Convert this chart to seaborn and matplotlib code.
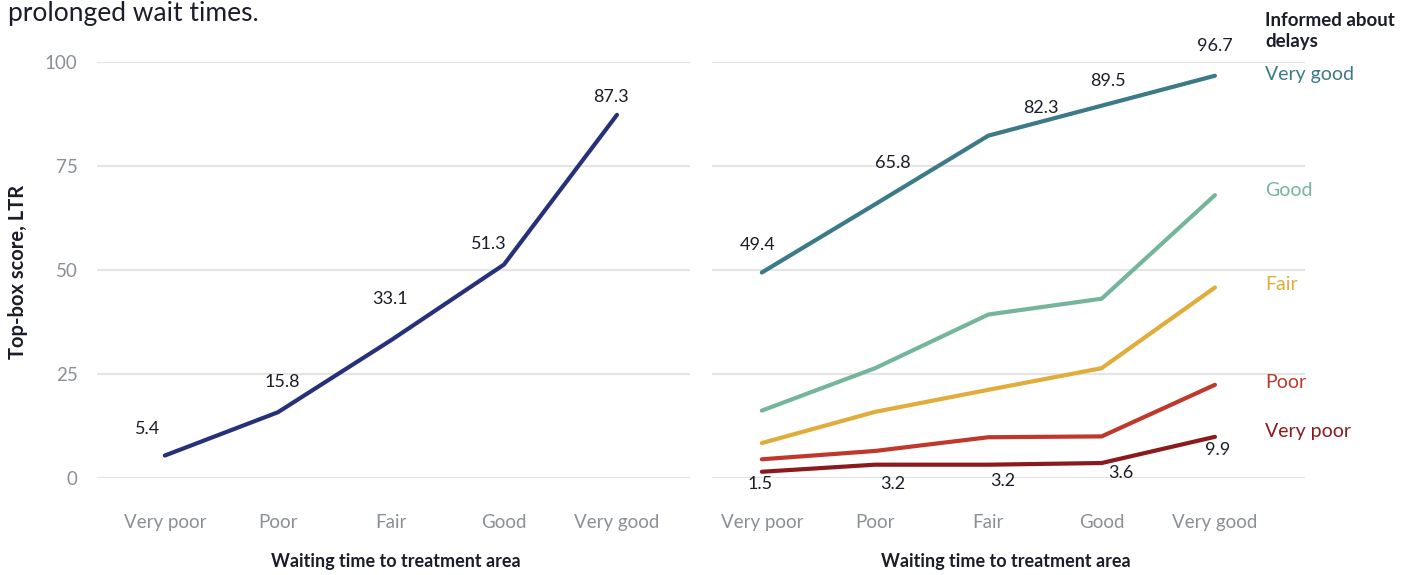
import matplotlib
matplotlib.use("Agg")
import matplotlib.pyplot as plt
import seaborn as sns
import pandas as pd

categories = ["Very poor", "Poor", "Fair", "Good", "Very good"]
overall = [5.4, 15.8, 33.1, 51.3, 87.3]

informed_levels = ["Very good", "Good", "Fair", "Poor", "Very poor"]
informed_very_good = [49.4, 65.8, 82.3, 89.5, 96.7]
informed_good = [16.2, 26.4, 39.3, 43.1, 68.0]
informed_fair = [8.4, 15.9, 21.2, 26.4, 45.8]
informed_poor = [4.5, 6.5, 9.8, 10.0, 22.4]
informed_very_poor = [1.5, 3.2, 3.2, 3.6, 9.9]

yticks = [0, 25, 50, 75, 100]

colors = {"Very good": "#3b7a86", "Good": "#74b59b", "Fair": "#e0ac3a",
          "Poor": "#c0382c", "Very poor": "#8a1a1c"}
navy = "#27317a"

sns.set_theme(style="white")
plt.rcParams["font.family"] = ["Lato", "DejaVu Sans"]

fig = plt.figure(figsize=(14.16, 5.75), dpi=100)
axL = fig.add_axes([97/1416, 1-478/575, 593/1416, 416/575])
axR = fig.add_axes([712/1416, 1-478/575, 593/1416, 416/575])

dfL = pd.DataFrame({"cat": categories, "val": overall})
sns.lineplot(data=dfL, x="cat", y="val", ax=axL, color=navy, lw=3, sort=False)

series = {"Very good": informed_very_good, "Good": informed_good, "Fair": informed_fair,
          "Poor": informed_poor, "Very poor": informed_very_poor}
rows = []
for k in informed_levels:
    for c, v in zip(categories, series[k]):
        rows.append({"cat": c, "val": v, "informed": k})
dfR = pd.DataFrame(rows)
sns.lineplot(data=dfR, x="cat", y="val", hue="informed", hue_order=informed_levels,
             palette=colors, ax=axR, lw=3, sort=False, legend=False)

tick_color = "#8a9096"
for ax in (axL, axR):
    ax.set_ylim(0, 100)
    ax.set_yticks(yticks)
    ax.grid(axis="y", color="#e4e4e4", lw=1.5)
    ax.grid(axis="x", visible=False)
    ax.set_axisbelow(True)
    for s in ax.spines.values():
        s.set_visible(False)
    ax.tick_params(axis="both", length=0, labelsize=13.5, labelcolor=tick_color)
    ax.tick_params(axis="x", pad=26)
    ax.set_xlabel("")
    ax.set_ylabel("")

axL.set_xlim(-0.6, 4.646)
axR.set_xlim(-0.44, 4.795)
axL.tick_params(axis="y", pad=14)
axR.set_yticklabels([])

fig.text(396/1416, 1-562/575, "Waiting time to treatment area", fontsize=13, fontweight="bold",
         color="#1b1d2a", ha="center", va="center")
fig.text(1006/1416, 1-562/575, "Waiting time to treatment area", fontsize=13, fontweight="bold",
         color="#1b1d2a", ha="center", va="center")
fig.text(18/1416, 1-272/575, "Top-box score, LTR", fontsize=14.5, fontweight="bold",
         color="#1b1d2a", ha="center", va="center", rotation=90)

val_color = "#1b1d2a"
# offsets in pixels (dx, dy)
offL = [(-17, 27), (4, 30), (-1, 41), (-15, 21), (-6, 18)]
for i, (v, (dx, dy)) in enumerate(zip(overall, offL)):
    axL.annotate(f"{v}", (i, v), xytext=(dx*0.72, dy*0.72), textcoords="offset points",
                 ha="center", va="center", fontsize=13, color=val_color, clip_on=False)

offVG = [(-4, 27), (18, 41), (52, 28), (6, 25), (0, 30)]
for i, (v, (dx, dy)) in enumerate(zip(informed_very_good, offVG)):
    axR.annotate(f"{v}", (i, v), xytext=(dx*0.72, dy*0.72), textcoords="offset points",
                 ha="center", va="center", fontsize=13, color=val_color, clip_on=False)
offVP = [(-2, -12), (18, -19), (14, -16), (19, -10), (3, -13)]
for i, (v, (dx, dy)) in enumerate(zip(informed_very_poor, offVP)):
    axR.annotate(f"{v}", (i, v), xytext=(dx*0.72, dy*0.72), textcoords="offset points",
                 ha="center", va="center", fontsize=13, color=val_color, clip_on=False)

# direct labels (legend)
fig.text(1265/1416, 1-31/575, "Informed about\ndelays", fontsize=13.5, fontweight="bold",
         color="#1b1d2a", ha="left", va="center", linespacing=1.25)
label_y = {"Very good": 74, "Good": 190, "Fair": 285, "Poor": 382, "Very poor": 431}
for k in informed_levels:
    fig.text(1265/1416, 1-label_y[k]/575, k, fontsize=14, color=colors[k],
             ha="left", va="center")

fig.text(8/1416, 1-13/575, "prolonged wait times.", fontsize=19, color="#1b1d2a",
         ha="left", va="center")

fig.savefig("out.png", dpi=100, facecolor="white")
